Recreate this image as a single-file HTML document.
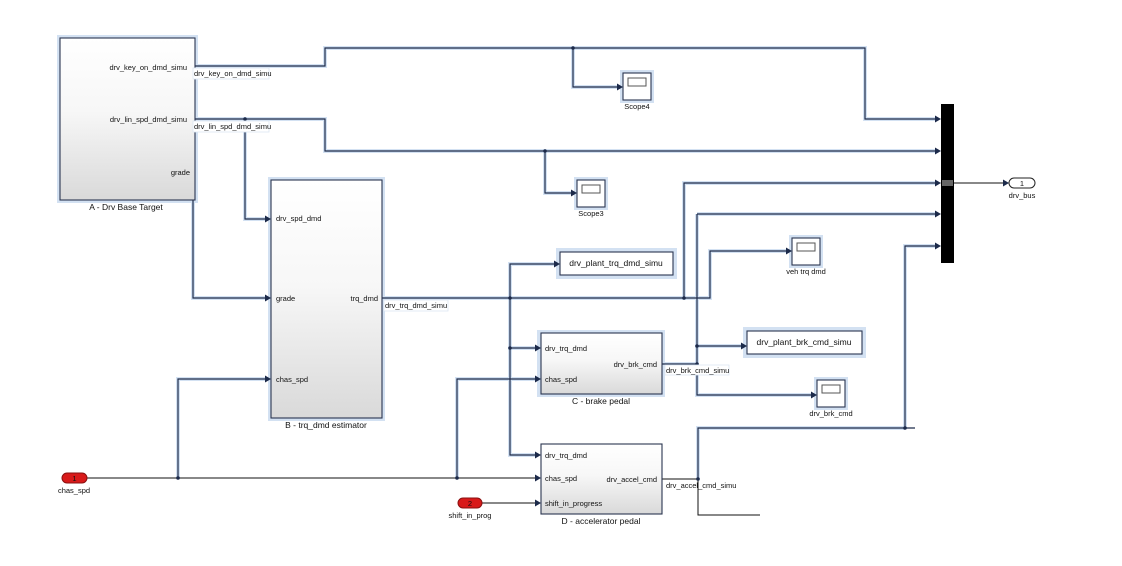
<!DOCTYPE html>
<html><head><meta charset="utf-8"><style>
html,body{margin:0;padding:0;background:#fff;}
svg{display:block;font-family:"Liberation Sans",sans-serif;}
.g{fill:none;stroke:#d3e1f2;stroke-width:4;stroke-linejoin:miter}
.w{fill:none;stroke:#1c2a4a;stroke-width:1.2}
.t{fill:none;stroke:#111;stroke-width:1}
text{font-size:7.5px;fill:#111}
.tl{font-size:8.5px}
</style></head><body>
<svg width="1122" height="566" viewBox="0 0 1122 566" xmlns="http://www.w3.org/2000/svg">
<defs>
<linearGradient id="bg" x1="0" y1="0" x2="0" y2="1"><stop offset="0" stop-color="#fff"/><stop offset="0.45" stop-color="#f7f7f7"/><stop offset="1" stop-color="#d9d9d9"/></linearGradient>
</defs>
<g class="g">
<polyline points="195,66 325,66 325,48 865,48 865,119 937,119"/>
<polyline points="573,48 573,87 619,87"/>
<polyline points="195,119 325,119 325,151 937,151"/>
<polyline points="245,119 245,219 268,219"/>
<polyline points="545,151 545,193 574,193"/>
<polyline points="193,172 193,298 268,298"/>
<polyline points="382,298 710,298 710,251 790,251"/>
<polyline points="684,298 684,183 937,183"/>
<polyline points="510,298 510,264 557,264"/>
<polyline points="510,298 510,455 537,455"/>
<polyline points="510,348 537,348"/>
<polyline points="662,364 697,364"/>
<polyline points="697,214 697,395 814,395"/>
<polyline points="697,214 937,214"/>
<polyline points="697,346 744,346"/>
<polyline points="698,479 698,428 905,428"/>
<polyline points="905,428 905,246 937,246"/>
<polyline points="178,478 178,379 268,379"/>
<polyline points="457,478 457,379 537,379"/>
</g>
<g fill="#d3e1f2">
<rect x="57" y="35" width="141" height="168"/>
<rect x="268" y="177" width="117" height="244"/>
<rect x="537" y="330" width="128" height="67"/>
<rect x="556" y="248" width="121" height="31"/>
<rect x="743" y="327" width="123" height="31"/>
<rect x="620" y="70" width="34" height="33"/>
<rect x="574" y="177" width="34" height="33"/>
<rect x="789" y="235" width="34" height="33"/>
<rect x="814" y="377" width="34" height="33"/>
</g>
<g class="w">
<polyline points="195,66 325,66 325,48 865,48 865,119 936,119"/>
<polyline points="573,48 573,87 618,87"/>
<polyline points="195,119 325,119 325,151 936,151"/>
<polyline points="245,119 245,219 267,219"/>
<polyline points="545,151 545,193 573,193"/>
<polyline points="193,172 193,298 267,298"/>
<polyline points="382,298 710,298 710,251 789,251"/>
<polyline points="684,298 684,183 936,183"/>
<polyline points="510,298 510,264 556,264"/>
<polyline points="510,298 510,455 536,455"/>
<polyline points="510,348 536,348"/>
<polyline points="662,364 697,364"/>
<polyline points="697,214 697,395 813,395"/>
<polyline points="697,214 936,214"/>
<polyline points="697,346 743,346"/>
<polyline points="698,479 698,428 915,428"/>
<polyline points="905,428 905,246 936,246"/>
<polyline points="178,478 178,379 267,379"/>
<polyline points="457,478 457,379 536,379"/>
</g>
<g class="t">
<polyline points="87,478 536,478"/>
<polyline points="482,503 536,503"/>
<polyline points="662,479 698,479 698,515 760,515"/>
<polyline points="954,183 1005,183"/>
</g>
<g fill="#1c2a4a">
<path d="M941,119 l-6,-3.5 v7z"/><path d="M941,151 l-6,-3.5 v7z"/><path d="M941,183 l-6,-3.5 v7z"/><path d="M941,214 l-6,-3.5 v7z"/><path d="M941,246 l-6,-3.5 v7z"/>
<path d="M623,87 l-6,-3.5 v7z"/><path d="M577,193 l-6,-3.5 v7z"/><path d="M792,251 l-6,-3.5 v7z"/><path d="M817,395 l-6,-3.5 v7z"/>
<path d="M271,219 l-6,-3.5 v7z"/><path d="M271,298 l-6,-3.5 v7z"/><path d="M271,379 l-6,-3.5 v7z"/>
<path d="M560,264 l-6,-3.5 v7z"/><path d="M747,346 l-6,-3.5 v7z"/>
<path d="M541,348 l-6,-3.5 v7z"/><path d="M541,379 l-6,-3.5 v7z"/><path d="M541,455 l-6,-3.5 v7z"/><path d="M541,478 l-6,-3.5 v7z"/><path d="M541,503 l-6,-3.5 v7z"/>
<path d="M1009,183 l-6,-3.5 v7z"/>
<circle cx="573" cy="48" r="1.8"/><circle cx="245" cy="119" r="1.8"/><circle cx="545" cy="151" r="1.8"/>
<circle cx="684" cy="298" r="1.8"/><circle cx="510" cy="298" r="1.8"/><circle cx="510" cy="348" r="1.8"/>
<circle cx="697" cy="364" r="1.8"/><circle cx="697" cy="346" r="1.8"/><circle cx="698" cy="479" r="1.8"/>
<circle cx="905" cy="428" r="1.8"/><circle cx="178" cy="478" r="1.8"/><circle cx="457" cy="478" r="1.8"/>
</g>
<g stroke="#2a3550" stroke-width="1.1">
<rect x="60" y="38" width="135" height="162" fill="url(#bg)"/>
<rect x="271" y="180" width="111" height="238" fill="url(#bg)"/>
<rect x="541" y="333" width="121" height="61" fill="url(#bg)"/>
<rect x="541" y="444" width="121" height="70" fill="url(#bg)"/>
<rect x="560" y="252" width="113" height="23" fill="#fff"/>
<rect x="747" y="331" width="115" height="23" fill="#fff"/>
<rect x="623" y="73" width="28" height="27" fill="#fff"/>
<rect x="577" y="180" width="28" height="27" fill="#fff"/>
<rect x="792" y="238" width="28" height="27" fill="#fff"/>
<rect x="817" y="380" width="28" height="27" fill="#fff"/>
</g>
<g fill="#fff" stroke="#555" stroke-width="1">
<rect x="628" y="78" width="18" height="8"/><rect x="582" y="185" width="18" height="8"/>
<rect x="797" y="243" width="18" height="8"/><rect x="822" y="385" width="18" height="8"/>
</g>
<rect x="941" y="104" width="13" height="159" fill="#000"/>
<g stroke="#fff" stroke-width="0.8"><line x1="942" y1="181" x2="953" y2="181"/><line x1="942" y1="183" x2="953" y2="183"/><line x1="942" y1="185" x2="953" y2="185"/></g>
<rect x="62" y="473" width="25" height="10" rx="5" fill="#d81a1a" stroke="#8a1010"/>
<rect x="458" y="498" width="24" height="10" rx="5" fill="#d81a1a" stroke="#8a1010"/>
<rect x="1009" y="178" width="26" height="10" rx="5" fill="#fff" stroke="#222"/>
<text x="74.5" y="481" text-anchor="middle" fill="#600">1</text>
<text x="470" y="506" text-anchor="middle" fill="#600">2</text>
<text x="1022" y="186" text-anchor="middle">1</text>
<g fill="#fff" stroke="#dde6f2" stroke-width="0.8">
<rect x="193" y="68" width="76" height="11"/><rect x="193" y="121" width="76" height="11"/>
<rect x="384" y="300" width="64" height="11"/><rect x="665" y="365" width="64" height="10"/>
</g>
<text x="194" y="76">drv_key_on_dmd_simu</text>
<text x="194" y="129">drv_lin_spd_dmd_simu</text>
<text x="385" y="308">drv_trq_dmd_simu</text>
<text x="666" y="373">drv_brk_cmd_simu</text>
<text x="666" y="488">drv_accel_cmd_simu</text>
<text x="187" y="70" text-anchor="end">drv_key_on_dmd_simu</text>
<text x="187" y="122" text-anchor="end">drv_lin_spd_dmd_simu</text>
<text x="190" y="175" text-anchor="end">grade</text>
<text x="276" y="221">drv_spd_dmd</text>
<text x="276" y="301">grade</text>
<text x="378" y="301" text-anchor="end">trq_dmd</text>
<text x="276" y="382">chas_spd</text>
<text x="545" y="351">drv_trq_dmd</text>
<text x="545" y="382">chas_spd</text>
<text x="657" y="367" text-anchor="end">drv_brk_cmd</text>
<text x="545" y="458">drv_trq_dmd</text>
<text x="545" y="481">chas_spd</text>
<text x="545" y="506">shift_in_progress</text>
<text x="657" y="482" text-anchor="end">drv_accel_cmd</text>
<text x="616" y="266" text-anchor="middle" class="tl">drv_plant_trq_dmd_simu</text>
<text x="804" y="345" text-anchor="middle" class="tl">drv_plant_brk_cmd_simu</text>
<text x="126" y="210" text-anchor="middle" class="tl">A - Drv Base Target</text>
<text x="326" y="428" text-anchor="middle" class="tl">B - trq_dmd estimator</text>
<text x="601" y="404" text-anchor="middle" class="tl">C - brake pedal</text>
<text x="601" y="524" text-anchor="middle" class="tl">D - accelerator pedal</text>
<text x="637" y="109" text-anchor="middle">Scope4</text>
<text x="591" y="216" text-anchor="middle">Scope3</text>
<text x="806" y="274" text-anchor="middle">veh trq dmd</text>
<text x="831" y="416" text-anchor="middle">drv_brk_cmd</text>
<text x="74" y="493" text-anchor="middle">chas_spd</text>
<text x="470" y="518" text-anchor="middle">shift_in_prog</text>
<text x="1022" y="198" text-anchor="middle">drv_bus</text>
</svg>
</body></html>
